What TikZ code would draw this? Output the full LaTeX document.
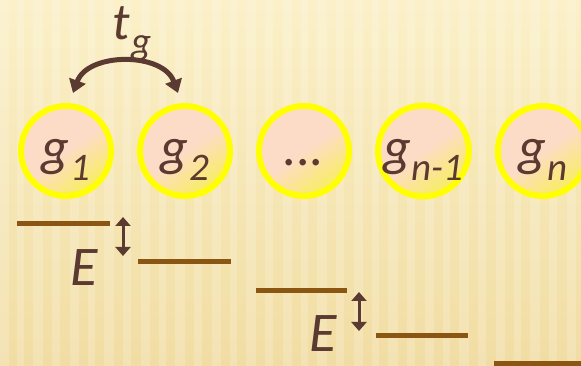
\documentclass[tikz,border=0pt]{standalone}
\usepackage{fontspec}
\setmainfont{Carlito}
\usetikzlibrary{arrows.meta,positioning,calc}
\definecolor{bgtop}{HTML}{FBF0C8}
\definecolor{bgbottom}{HTML}{F1DDA3}
\definecolor{siteyellow}{HTML}{FFFF00}
\definecolor{sitepeach}{HTML}{FDDCC7}
\definecolor{siteglow}{HTML}{F8EE5E}
\definecolor{txtbrown}{HTML}{5B3A31}
\definecolor{levelbrown}{HTML}{8A5611}
\newcommand{\lowsub}[2]{#1\kern1pt\raisebox{-15pt}{\fontsize{39}{39}\selectfont #2}}

\begin{document}
\begin{tikzpicture}[
  x=1pt, y=1pt,
  node distance=23pt,
  site/.style={circle, minimum size=90pt, inner sep=0pt, line width=6pt,
    draw=siteyellow, top color=sitepeach, bottom color=siteglow,
    middle color=sitepeach, shading angle=35,
    font=\itshape\fontsize{54}{54}\selectfont, text=txtbrown,
    text height=36pt, text depth=6pt},
  level/.style={line width=5pt, draw=levelbrown},
  gap/.style={{Triangle[length=9pt,width=15pt]}-{Triangle[length=9pt,width=15pt]},
    line width=3pt, draw=txtbrown},
  hop/.style={{Triangle[length=13pt,width=17pt]}-{Triangle[length=13pt,width=17pt]},
    line width=5pt, draw=txtbrown},
  tlabel/.style={font=\itshape\fontsize{52}{52}\selectfont, text=txtbrown, inner sep=0pt},
  elabel/.style={font=\itshape\fontsize{56}{56}\selectfont, text=txtbrown, inner sep=0pt}
]
\useasboundingbox (0,0) rectangle (581,366);
% background
\fill[top color=bgtop, bottom color=bgbottom] (0,0) rectangle (581,366);
\foreach \x/\w in {0/9,17/7,33/10,52/8,70/9,88/7,104/10,123/8,141/9,159/7,175/10,194/8,
  212/9,230/7,246/10,265/8,283/9,301/7,317/10,336/8,354/9,372/7,388/10,407/8,
  425/9,443/7,459/10,478/8,496/9,514/7,530/10,549/8,567/9}
  \fill[white, opacity=0.18] (\x,0) rectangle ++(\w,366);

% sites
\node[site] (g1) at (66,215) {\lowsub{g}{1}};
\node[site, right=of g1] (g2) {\lowsub{g}{2}};
\node[site, right=of g2] (gdots) {...};
\node[site, right=of gdots] (gn1) {\lowsub{g}{n-1}};
\node[site, right=of gn1] (gn) {\lowsub{g}{n}};

% hopping
\draw[hop] ([shift={(7,10)}]g1.north) .. controls +(15,41) and +(-15,41) .. ([shift={(-7,10)}]g2.north);
\node[tlabel, anchor=base] (tg) at (132,326) {\lowsub{t}{g}};

% energy levels
\draw[level] (17,142) -- (110,142);
\draw[level] (138,104) -- (231,104);
\draw[level] (256,75) -- (347,75);
\draw[level] (376,30) -- (468,30);
\draw[level] (494,2) -- (581,2);

\coordinate (d1t) at (123,149);
\coordinate (d1b) at (123,110);
\coordinate (d2t) at (359,74);
\coordinate (d2b) at (359,35);
\draw[gap] (d1t) -- (d1b);
\draw[gap] (d2t) -- (d2b);
\node[elabel, anchor=base] (e1) at (84,80) {E};
\node[elabel, anchor=base] (e2) at (323,14) {E};
\end{tikzpicture}
\end{document}
